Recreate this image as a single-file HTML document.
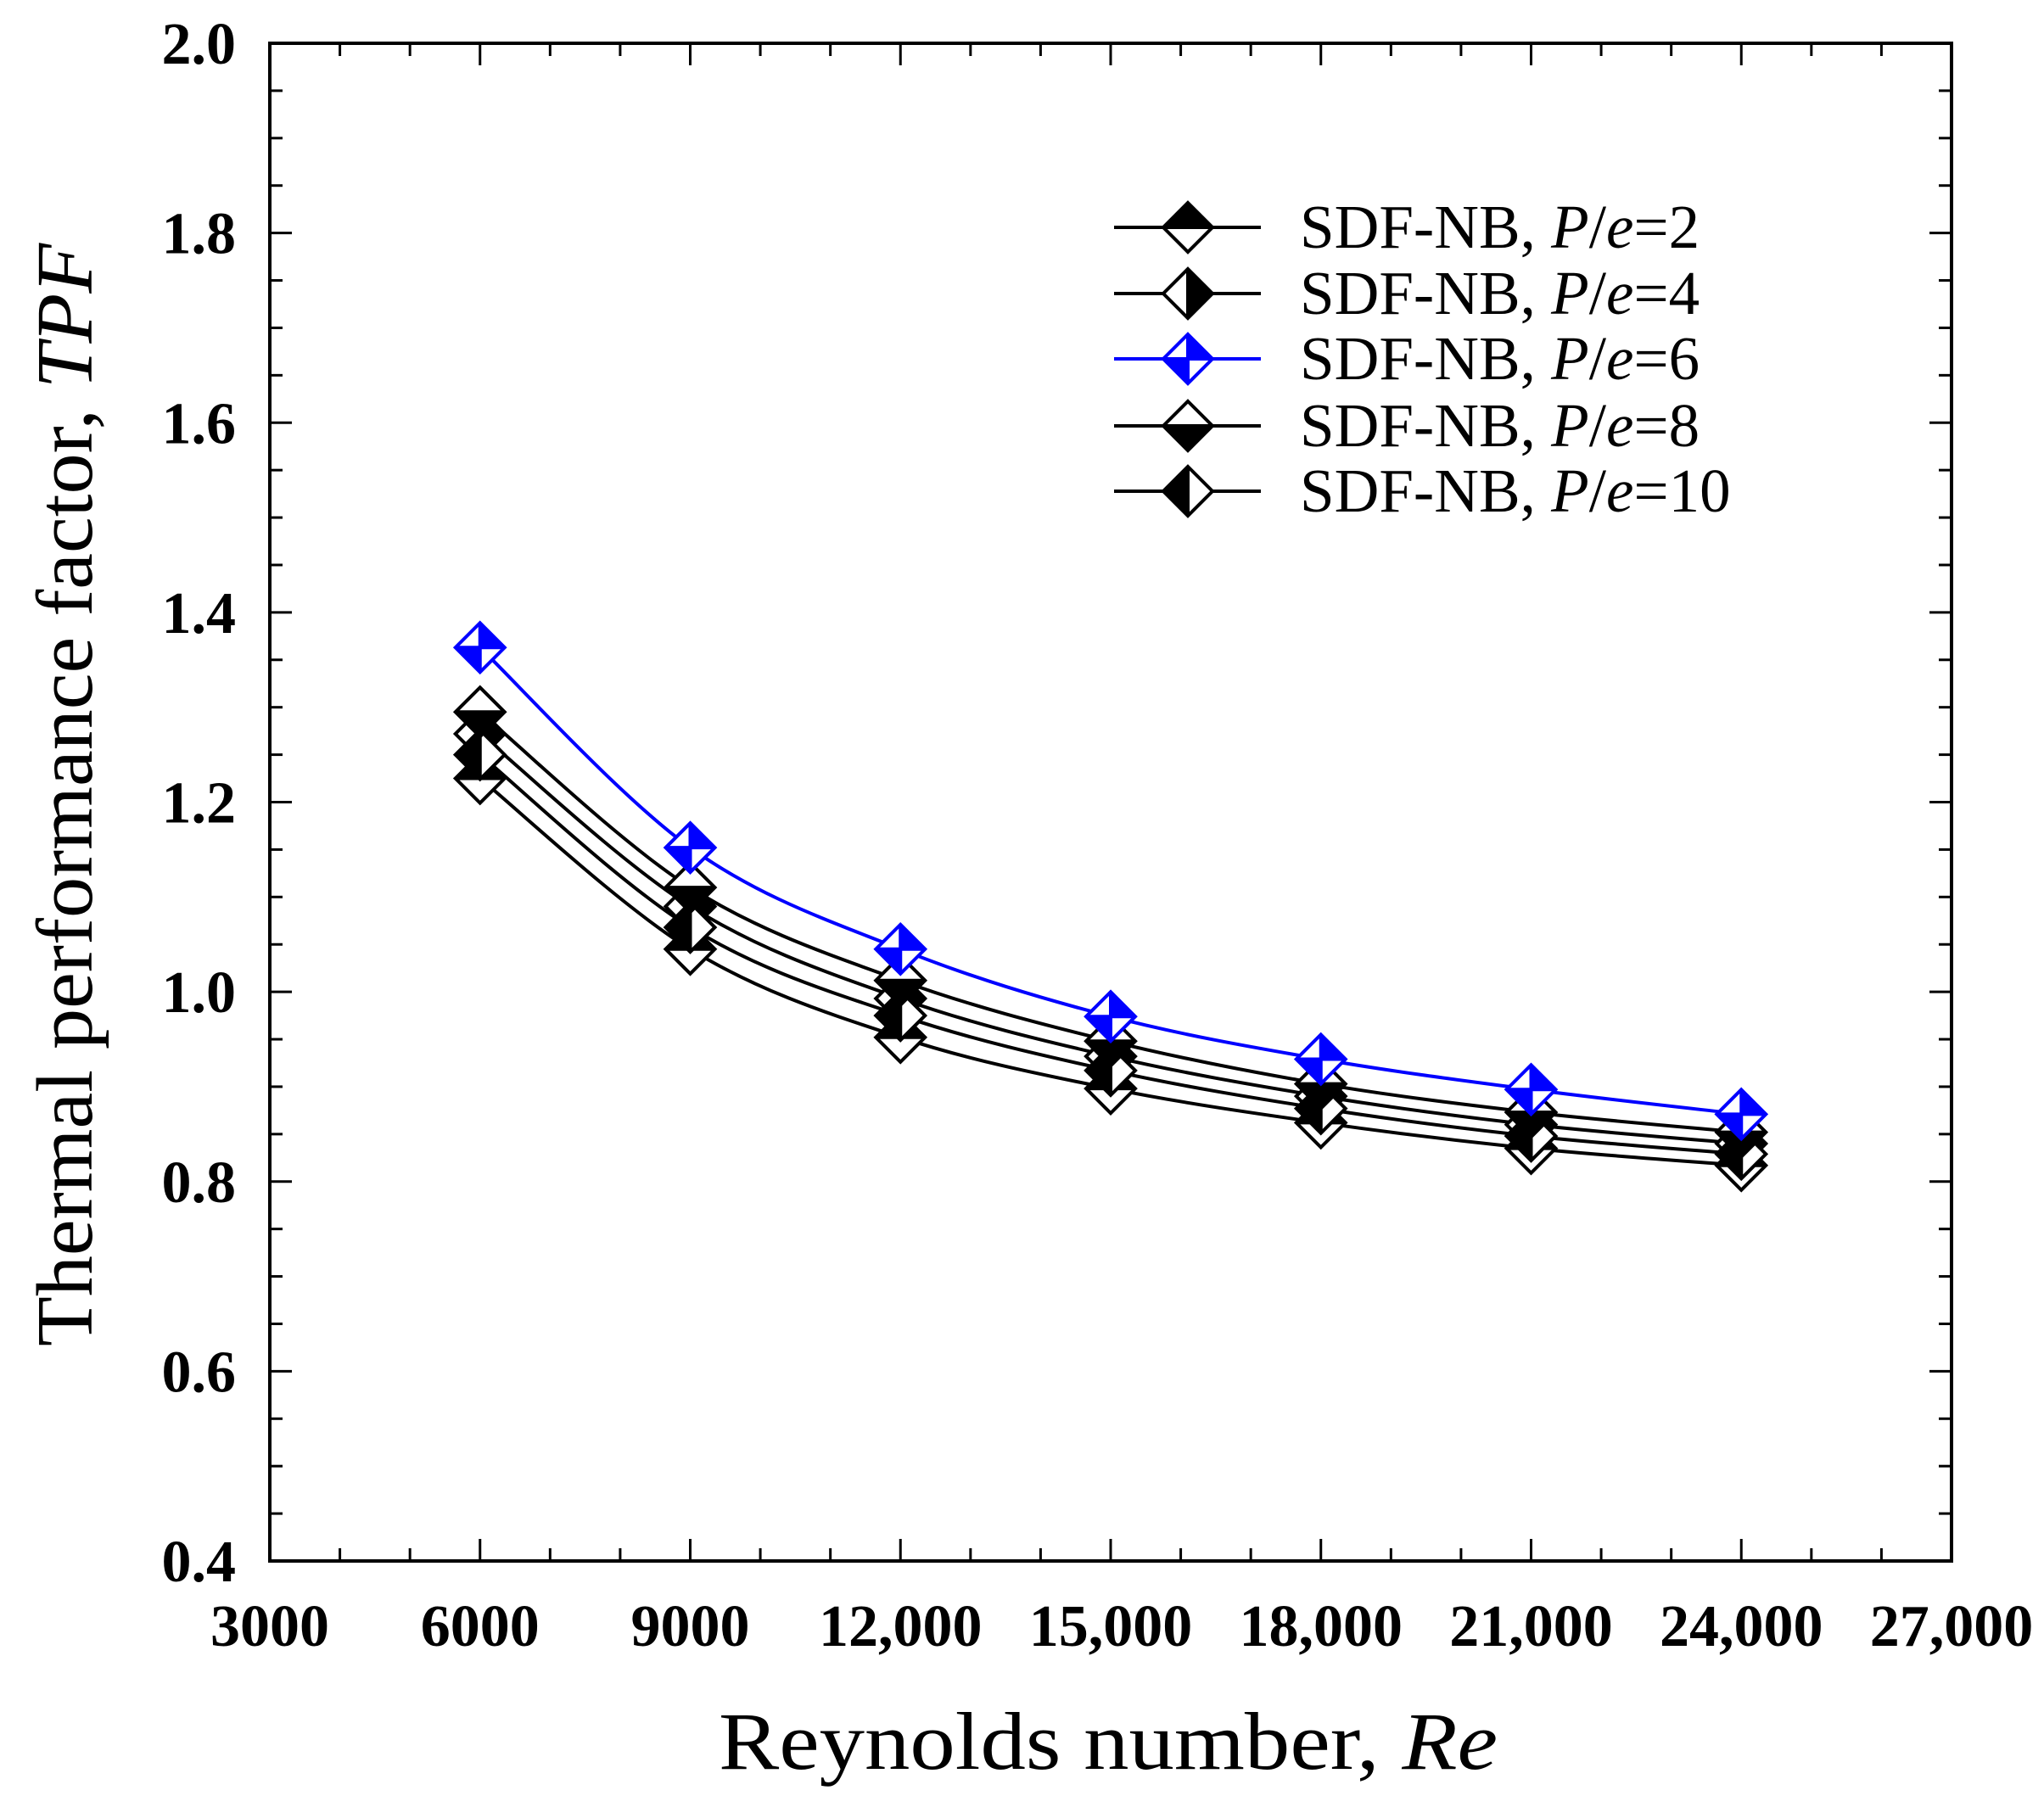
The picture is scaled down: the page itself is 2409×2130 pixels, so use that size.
<!DOCTYPE html>
<html><head><meta charset="utf-8"><style>
html,body{margin:0;padding:0;background:#fff;}
svg{display:block;}
</style></head><body>
<svg id="chart" width="2409" height="2130" viewBox="0 0 2409 2130" xmlns="http://www.w3.org/2000/svg" font-family="'Liberation Serif', serif">
<g id="ticks"></g>
<g id="series"></g>
<rect x="318" y="51" width="1982" height="1789" fill="none" stroke="#000" stroke-width="4"/>
<g id="legend"></g>
<text x="1306" y="2085" font-size="96" text-anchor="middle" textLength="918" lengthAdjust="spacingAndGlyphs">Reynolds number, <tspan font-style="italic">Re</tspan></text>
<text transform="translate(108,937) rotate(-90)" font-size="94" text-anchor="middle" textLength="1300" lengthAdjust="spacingAndGlyphs">Thermal performance factor, <tspan font-style="italic">TPF</tspan></text>
</svg>
<script>
const categories = [6000, 9000, 12000, 15000, 18000, 21000, 24000];
const pe2 = [1.225, 1.045, 0.952, 0.898, 0.862, 0.835, 0.817];
const pe4 = [1.272, 1.090, 0.993, 0.932, 0.890, 0.860, 0.840];
const pe6 = [1.363, 1.152, 1.045, 0.974, 0.929, 0.897, 0.871];
const pe8 = [1.295, 1.110, 1.012, 0.948, 0.903, 0.873, 0.852];
const pe10 = [1.250, 1.068, 0.975, 0.917, 0.877, 0.848, 0.829];
const xTicks = [3000, 6000, 9000, 12000, 15000, 18000, 21000, 24000, 27000];
const xTickLabels = ["3000","6000","9000","12,000","15,000","18,000","21,000","24,000","27,000"];
const yTicks = [0.4, 0.6, 0.8, 1.0, 1.2, 1.4, 1.6, 1.8, 2.0];
const yTickLabels = ["0.4","0.6","0.8","1.0","1.2","1.4","1.6","1.8","2.0"];
const seriesNames = ["SDF-NB, P/e=2","SDF-NB, P/e=4","SDF-NB, P/e=6","SDF-NB, P/e=8","SDF-NB, P/e=10"];

const NS = "http://www.w3.org/2000/svg";
const L=318,R=2300,T=51,B=1840;
const xs = v => L + (v-3000)/(27000-3000)*(R-L);
const ys = v => B - (v-0.4)/(2.0-0.4)*(B-T);
function mk(tag, attrs, parent){const e=document.createElementNS(NS,tag);for(const k in attrs)e.setAttribute(k,attrs[k]);parent.appendChild(e);return e;}

const tg=document.getElementById('ticks');
for(let v=3000; v<=27000; v+=1000){
  const x=xs(v); const major=(v%3000===0); const len=major?26:15;
  let t=mk('line',{x1:x,y1:B,x2:x,y2:B-len,stroke:'#000','stroke-width':3},tg);
  
  
  t=mk('line',{x1:x,y1:T,x2:x,y2:T+len,stroke:'#000','stroke-width':3},tg);
  
  
}
for(let i=0;i<=32;i++){
  const v=0.4+i*0.05; const y=ys(v); const major=(i%4===0); const len=major?26:15;
  let t=mk('line',{x1:L,y1:y,x2:L+len,y2:y,stroke:'#000','stroke-width':3},tg);
  
  
  t=mk('line',{x1:R,y1:y,x2:R-len,y2:y,stroke:'#000','stroke-width':3},tg);
  
  
}
xTicks.forEach((v,i)=>{
  const t=mk('text',{x:xs(v),y:1940,'font-size':70,'font-weight':'bold','text-anchor':'middle'},tg);
  t.textContent=xTickLabels[i];
  
  
});
yTicks.forEach((v,i)=>{
  const t=mk('text',{x:278,y:ys(v)+24,'font-size':70,'font-weight':'bold','text-anchor':'end'},tg);
  t.textContent=yTickLabels[i];
  
  
});

function curve(pts){
  let d=`M${pts[0][0]},${pts[0][1]}`;
  for(let i=0;i<pts.length-1;i++){
    const p0=pts[Math.max(0,i-1)],p1=pts[i],p2=pts[i+1],p3=pts[Math.min(pts.length-1,i+2)];
    const c1=[p1[0]+(p2[0]-p0[0])/6,p1[1]+(p2[1]-p0[1])/6];
    const c2=[p2[0]-(p3[0]-p1[0])/6,p2[1]-(p3[1]-p1[1])/6];
    d+=` C${c1[0]},${c1[1]} ${c2[0]},${c2[1]} ${p2[0]},${p2[1]}`;
  }
  return d;
}
const h=29;
function marker(g,cx,cy,style,color){
  const top=[cx,cy-h],rt=[cx+h,cy],bot=[cx,cy+h],lf=[cx-h,cy];
  const grp=mk('g',{},g);
  
  
  mk('polygon',{points:[top,rt,bot,lf].map(p=>p.join(',')).join(' '),fill:'#fff'},grp);
  const P=a=>a.map(p=>p.join(',')).join(' ');
  const c=[cx,cy];
  if(style==='top') mk('polygon',{points:P([lf,top,rt]),fill:color},grp);
  if(style==='bottom') mk('polygon',{points:P([lf,bot,rt]),fill:color},grp);
  if(style==='right') mk('polygon',{points:P([top,rt,bot]),fill:color},grp);
  if(style==='left') mk('polygon',{points:P([top,lf,bot]),fill:color},grp);
  if(style==='quad'){mk('polygon',{points:P([top,rt,c]),fill:color},grp);mk('polygon',{points:P([lf,bot,c]),fill:color},grp);}
  if(style==='top'||style==='bottom'||style==='quad') mk('line',{x1:lf[0],y1:cy,x2:rt[0],y2:cy,stroke:color,'stroke-width':4},grp);
  if(style==='left'||style==='right'||style==='quad') mk('line',{x1:cx,y1:top[1],x2:cx,y2:bot[1],stroke:color,'stroke-width':4},grp);
  mk('polygon',{points:P([top,rt,bot,lf]),fill:'none',stroke:color,'stroke-width':4},grp);
}
const sdefs=[
 {vals:pe2,style:'top',color:'#000'},
 {vals:pe4,style:'right',color:'#000'},
 {vals:pe10,style:'left',color:'#000'},
 {vals:pe8,style:'bottom',color:'#000'},
 {vals:pe6,style:'quad',color:'#0000ff'}
];
const sg=document.getElementById('series');
sdefs.forEach(s=>{
  const pts=categories.map((c,i)=>[xs(c),ys(s.vals[i])]);
  const p=mk('path',{d:curve(pts),fill:'none',stroke:s.color,'stroke-width':4},sg);
  
  
});
sdefs.forEach(s=>{
  categories.forEach((c,i)=>marker(sg,xs(c),ys(s.vals[i]),s.style,s.color));
});

const lg=document.getElementById('legend');
const lstyles=[['top','#000'],['right','#000'],['quad','#0000ff'],['bottom','#000'],['left','#000']];
const lys=[268,346,423,502,579];
seriesNames.forEach((n,i)=>{
  const y=lys[i];
  const ln=mk('line',{x1:1313,y1:y,x2:1486,y2:y,stroke:lstyles[i][1],'stroke-width':4},lg);
  
  
  marker(lg,1400,y,lstyles[i][0],lstyles[i][1]);
  const t=mk('text',{x:1532,y:y+24,'font-size':73},lg);
  
  
  const val=n.split('=')[1];
  t.innerHTML='SDF-NB, <tspan font-style="italic">P</tspan>/<tspan font-style="italic">e</tspan>='+val;
});
</script>
</body></html>
